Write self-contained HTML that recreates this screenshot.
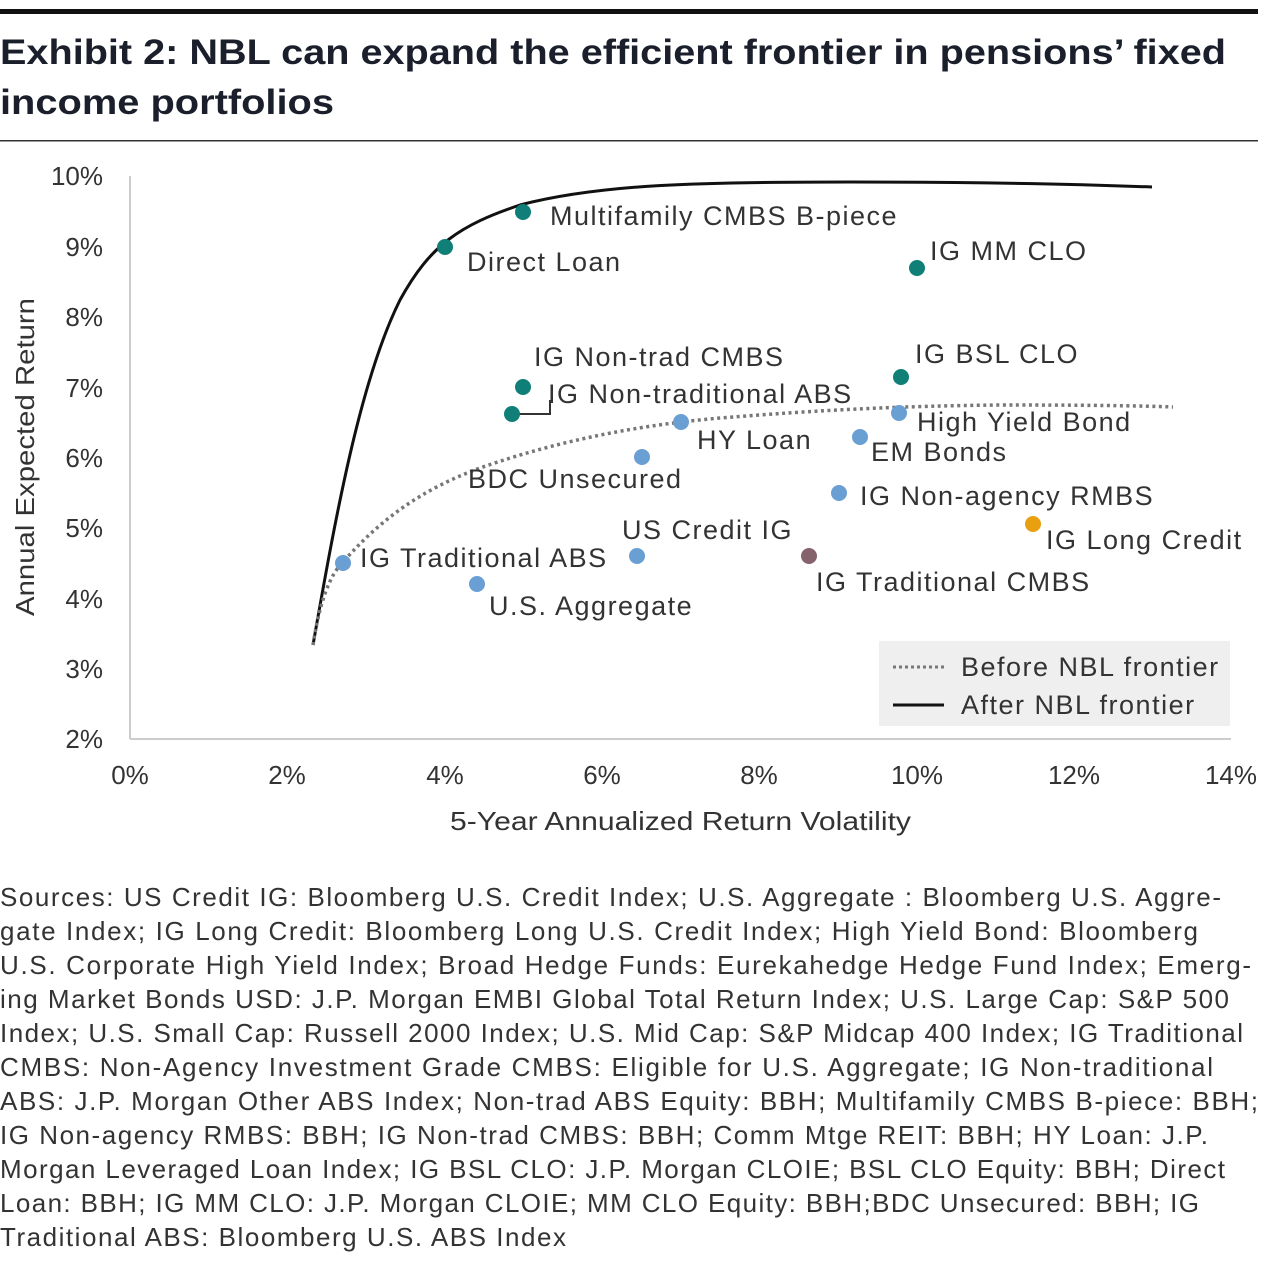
<!DOCTYPE html>
<html><head><meta charset="utf-8"><style>
html,body{margin:0;padding:0;background:#fff;}
svg text{font-family:"Liberation Sans","DejaVu Sans",sans-serif;}
.lb{font-size:27px;letter-spacing:1.5px;}
</style></head><body>
<svg width="1280" height="1261" viewBox="0 0 1280 1261" xmlns="http://www.w3.org/2000/svg">
<rect x="0" y="9" width="1258" height="5" fill="#111"/>
<text x="0" y="64" font-size="35" font-weight="bold" fill="#1a1f2b" textLength="1226" lengthAdjust="spacingAndGlyphs">Exhibit 2: NBL can expand the efficient frontier in pensions’ fixed</text>
<text x="0" y="114" font-size="35" font-weight="bold" fill="#1a1f2b" textLength="334" lengthAdjust="spacingAndGlyphs">income portfolios</text>
<rect x="0" y="140" width="1258" height="1.5" fill="#333"/>

<g fill="#333" font-size="26">
<line x1="130" y1="176" x2="130" y2="739" stroke="#ccc" stroke-width="2"/>
<line x1="130" y1="739" x2="1231" y2="739" stroke="#ccc" stroke-width="2"/>
<g text-anchor="end">
<text x="103" y="185">10%</text><text x="103" y="256">9%</text><text x="103" y="326">8%</text>
<text x="103" y="397">7%</text><text x="103" y="467">6%</text><text x="103" y="537">5%</text>
<text x="103" y="608">4%</text><text x="103" y="678">3%</text><text x="103" y="748">2%</text>
</g>
<g text-anchor="middle">
<text x="130" y="784">0%</text><text x="287" y="784">2%</text><text x="445" y="784">4%</text>
<text x="602" y="784">6%</text><text x="759" y="784">8%</text><text x="917" y="784">10%</text>
<text x="1074" y="784">12%</text><text x="1231" y="784">14%</text>
</g>
<text x="450" y="830" textLength="461" lengthAdjust="spacingAndGlyphs">5-Year Annualized Return Volatility</text>
<text transform="translate(34,616) rotate(-90)" textLength="318" lengthAdjust="spacingAndGlyphs">Annual Expected Return</text>
</g>

<path d="M313,645 C335,520 360,380 400,300 C430,245 460,225 520,205 C600,184 700,182 850,182 C1000,182 1100,185 1152,187" fill="none" stroke="#111" stroke-width="3"/>
<path d="M313,645 C320,600 330,575 343,562 C380,520 420,490 480,468 C560,440 640,425 720,418 C820,410 900,406 1000,405 C1100,405 1150,406 1173,407" fill="none" stroke="#777" stroke-width="3.5" stroke-dasharray="3,3.5"/>

<polyline points="512,414 550,414 550,400" fill="none" stroke="#333" stroke-width="2"/>
<g fill="#0f7f77">
<circle cx="523" cy="212" r="8"/><circle cx="445" cy="247" r="8"/><circle cx="917" cy="268" r="8"/>
<circle cx="523" cy="387" r="8"/><circle cx="512" cy="414" r="8"/><circle cx="901" cy="377" r="8"/>
</g>
<g fill="#6a9fd4">
<circle cx="681" cy="422" r="8"/><circle cx="899" cy="413" r="8"/><circle cx="860" cy="437" r="8"/>
<circle cx="642" cy="457" r="8"/><circle cx="839" cy="493" r="8"/><circle cx="343" cy="563" r="8"/>
<circle cx="637" cy="556" r="8"/><circle cx="477" cy="584" r="8"/>
</g>
<circle cx="809" cy="556" r="8" fill="#85636d"/>
<circle cx="1033" cy="524" r="8" fill="#e8a010"/>

<g fill="#333" class="lb">
<text x="550" y="225">Multifamily CMBS B-piece</text>
<text x="467" y="271">Direct Loan</text>
<text x="930" y="260">IG MM CLO</text>
<text x="534" y="366">IG Non-trad CMBS</text>
<text x="548" y="403">IG Non-traditional ABS</text>
<text x="915" y="363">IG BSL CLO</text>
<text x="917" y="431">High Yield Bond</text>
<text x="697" y="449">HY Loan</text>
<text x="871" y="461">EM Bonds</text>
<text x="468" y="488">BDC Unsecured</text>
<text x="860" y="505">IG Non-agency RMBS</text>
<text x="622" y="539">US Credit IG</text>
<text x="1046" y="549">IG Long Credit</text>
<text x="360" y="567">IG Traditional ABS</text>
<text x="816" y="591">IG Traditional CMBS</text>
<text x="489" y="615">U.S. Aggregate</text>
</g>

<rect x="879" y="641" width="351" height="85" fill="#efefef"/>
<line x1="893" y1="667" x2="944" y2="667" stroke="#777" stroke-width="3" stroke-dasharray="3,3"/>
<line x1="893" y1="705" x2="944" y2="705" stroke="#111" stroke-width="3"/>
<g fill="#333" class="lb">
<text x="961" y="676">Before NBL frontier</text>
<text x="961" y="714">After NBL frontier</text>
</g>

<g fill="#333" font-size="26" lengthAdjust="spacingAndGlyphs">
<text x="0" y="906" textLength="1221">Sources: US Credit IG: Bloomberg U.S. Credit Index; U.S. Aggregate : Bloomberg U.S. Aggre-</text>
<text x="0" y="940" textLength="1198">gate Index; IG Long Credit: Bloomberg Long U.S. Credit Index; High Yield Bond: Bloomberg</text>
<text x="0" y="974" textLength="1251">U.S. Corporate High Yield Index; Broad Hedge Funds: Eurekahedge Hedge Fund Index; Emerg-</text>
<text x="0" y="1008" textLength="1229">ing Market Bonds USD: J.P. Morgan EMBI Global Total Return Index; U.S. Large Cap: S&amp;P 500</text>
<text x="0" y="1042" textLength="1243">Index; U.S. Small Cap: Russell 2000 Index; U.S. Mid Cap: S&amp;P Midcap 400 Index; IG Traditional</text>
<text x="0" y="1076" textLength="1213">CMBS: Non-Agency Investment Grade CMBS: Eligible for U.S. Aggregate; IG Non-traditional</text>
<text x="0" y="1110" textLength="1258">ABS: J.P. Morgan Other ABS Index; Non-trad ABS Equity: BBH; Multifamily CMBS B-piece: BBH;</text>
<text x="0" y="1144" textLength="1208">IG Non-agency RMBS: BBH; IG Non-trad CMBS: BBH; Comm Mtge REIT: BBH; HY Loan: J.P.</text>
<text x="0" y="1178" textLength="1225">Morgan Leveraged Loan Index; IG BSL CLO: J.P. Morgan CLOIE; BSL CLO Equity: BBH; Direct</text>
<text x="0" y="1212" textLength="1199">Loan: BBH; IG MM CLO: J.P. Morgan CLOIE; MM CLO Equity: BBH;BDC Unsecured: BBH; IG</text>
<text x="0" y="1246" textLength="566">Traditional ABS: Bloomberg U.S. ABS Index</text>
</g>
</svg>
</body></html>
